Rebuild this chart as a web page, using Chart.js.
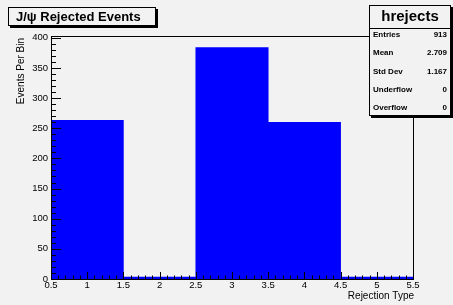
<!DOCTYPE html>
<html>
<head>
<meta charset="utf-8">
<script src="https://cdn.jsdelivr.net/npm/chart.js@4.4.0/dist/chart.umd.min.js"></script>
<style>
  html, body { margin: 0; padding: 0; background: #f2f2f2; }
  canvas { display: block; }
</style>
</head>
<body>
<canvas id="canvas" width="453" height="305"></canvas>
<script>
// histogram bins (centres) and counts
const binCenters = [1, 2, 3, 4, 5]
const binCounts = [263, 3, 384, 260, 3]

// axis tick labels
const xTicks = [0.5, 1, 1.5, 2, 2.5, 3, 3.5, 4, 4.5, 5, 5.5]
const yTicks = [0, 50, 100, 150, 200, 250, 300, 350, 400]

// stats box
const histName = 'hrejects'
const statNames = ['Entries', 'Mean', 'Std Dev', 'Underflow', 'Overflow']
const statValues = ['913', '2.709', '1.167', '0', '0']

const FONT = '"Liberation Sans", Arial, Helvetica, sans-serif'

const rootStyle = {
    id: 'rootStyle',
    beforeDraw(chart) {
        const ctx = chart.ctx
        ctx.save()
        ctx.fillStyle = '#f2f2f2'
        ctx.fillRect(0, 0, chart.width, chart.height)
        ctx.restore()
    },
    afterDraw(chart) {
        const ctx = chart.ctx
        const area = chart.chartArea
        const xs = chart.scales.x
        const ys = chart.scales.y
        ctx.save()

        // frame
        ctx.strokeStyle = '#000'
        ctx.lineWidth = 1
        ctx.strokeRect(Math.round(area.left) + 0.5, Math.round(area.top) + 0.5,
            Math.round(area.right - area.left), Math.round(area.bottom - area.top))

        // x ticks (inward), minor every 0.1
        ctx.beginPath()
        for (let i = 5; i <= 55; i++) {
            const px = Math.round(xs.getPixelForValue(i / 10)) + 0.5
            const len = (i % 5 === 0) ? 7 : 3.5
            ctx.moveTo(px, area.bottom)
            ctx.lineTo(px, area.bottom - len)
        }
        // y ticks (inward), minor every 10
        for (let v = 0; v <= 400; v += 10) {
            const py = Math.round(ys.getPixelForValue(v)) + 0.5
            const len = (v % 50 === 0) ? 10 : 5
            ctx.moveTo(area.left, py)
            ctx.lineTo(area.left + len, py)
        }
        ctx.stroke()

        // tick labels
        ctx.fillStyle = '#000'
        ctx.font = '9.5px ' + FONT
        ctx.textAlign = 'center'
        ctx.textBaseline = 'top'
        xTicks.forEach(t => {
            ctx.fillText(String(t), xs.getPixelForValue(t), area.bottom + 2)
        })
        ctx.textAlign = 'right'
        ctx.textBaseline = 'middle'
        yTicks.forEach(t => {
            ctx.fillText(String(t), area.left - 3, ys.getPixelForValue(t))
        })

        // axis titles
        ctx.font = '10px ' + FONT
        ctx.textAlign = 'right'
        ctx.textBaseline = 'middle'
        ctx.fillText('Rejection Type', area.right + 1, 296)
        ctx.save()
        ctx.translate(21, area.top + 2)
        ctx.rotate(-Math.PI / 2)
        ctx.fillText('Events Per Bin', 0, 0)
        ctx.restore()

        // title box with shadow
        ctx.fillStyle = '#000'
        ctx.fillRect(10, 9, 148, 19)
        ctx.fillStyle = '#f2f2f2'
        ctx.fillRect(8, 7, 148, 19)
        ctx.strokeRect(8.5, 7.5, 147, 18)
        ctx.fillStyle = '#000'
        ctx.font = 'bold 13px ' + FONT
        ctx.textAlign = 'left'
        ctx.fillText('J/\u03c8 Rejected Events', 16, 17)

        // stats box with shadow
        const bx = 369, by = 5, bw = 82, bh = 111
        ctx.fillRect(bx + 2, by + 2, bw, bh)
        ctx.fillStyle = '#f2f2f2'
        ctx.fillRect(bx, by, bw, bh)
        ctx.strokeRect(bx + 0.5, by + 0.5, bw - 1, bh - 1)
        ctx.beginPath()
        ctx.moveTo(bx, 28.5)
        ctx.lineTo(bx + bw, 28.5)
        ctx.stroke()
        ctx.fillStyle = '#000'
        ctx.font = 'bold 15px ' + FONT
        ctx.textAlign = 'center'
        ctx.fillText(histName, bx + bw / 2, 17)
        ctx.font = 'bold 8px ' + FONT
        statNames.forEach((name, i) => {
            const y = 35 + i * 18.2
            ctx.textAlign = 'left'
            ctx.fillText(name, bx + 4, y)
            ctx.textAlign = 'right'
            ctx.fillText(statValues[i], bx + bw - 4, y)
        })

        ctx.restore()
    }
}

const ctx = document.querySelector('#canvas')

new Chart(ctx, {
    type: 'bar',
    data: {
        datasets: [{
            label: histName,
            data: binCenters.map((c, i) => ({ x: c, y: binCounts[i] })),
            backgroundColor: '#0000ff',
            borderWidth: 0,
            barPercentage: 1,
            categoryPercentage: 1
        }]
    },
    options: {
        responsive: false,
        animation: false,
        layout: {
            padding: { left: 51, right: 40, top: 36, bottom: 26 }
        },
        scales: {
            x: {
                type: 'linear',
                min: 0.5,
                max: 5.5,
                offset: false,
                display: false,
                // one tick per bin so the bars fill the whole bin width
                afterBuildTicks: scale => {
                    scale.ticks = binCenters.map(v => ({ value: v }))
                }
            },
            y: {
                min: 0,
                max: 403,
                display: false
            }
        },
        plugins: {
            legend: { display: false },
            tooltip: { enabled: false }
        }
    },
    plugins: [rootStyle]
})
</script>
</body>
</html>
